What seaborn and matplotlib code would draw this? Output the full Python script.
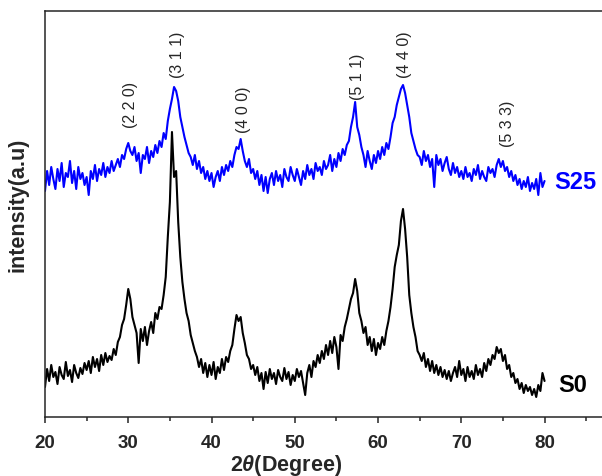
import matplotlib
matplotlib.use("Agg")
import matplotlib.pyplot as plt
import seaborn as sns
import numpy as np
import pandas as pd
from matplotlib.ticker import MultipleLocator

# 2theta grid, 0.25 degree steps from 20 to 80
two_theta = np.arange(20, 80.01, 0.25)

# intensities (a.u.), one row = 5 degrees
s0 = [
    30, 48, 36, 52, 40, 45, 33, 50, 42, 38, 55, 41, 47, 35, 52, 44, 39, 49, 43, 54,
    47, 56, 44, 60, 50, 58, 46, 62, 52, 64, 55, 61, 57, 68, 62, 75, 80, 92, 98, 112,
    128, 118, 100, 92, 84, 54, 88, 76, 90, 72, 86, 95, 84, 104, 98, 110, 108, 122, 140, 180,
    215, 285, 240, 246, 195, 160, 135, 118, 104, 96, 82, 74, 66, 60, 50, 58, 44, 54, 40, 52,
    42, 55, 38, 50, 44, 58, 47, 60, 55, 66, 72, 88, 102, 96, 100, 84, 74, 62, 58, 48,
    52, 42, 50, 36, 44, 28, 45, 34, 48, 38, 44, 33, 47, 40, 36, 49, 38, 45, 32, 42,
    36, 48, 40, 46, 34, 22, 44, 52, 40, 56, 50, 62, 54, 66, 58, 72, 62, 76, 64, 80,
    70, 48, 82, 76, 90, 98, 108, 118, 124, 138, 126, 104, 96, 84, 90, 72, 80, 66, 78, 62,
    74, 68, 80, 72, 86, 96, 110, 128, 150, 162, 172, 196, 208, 188, 160, 122, 104, 90, 80, 66,
    62, 56, 64, 50, 58, 46, 56, 44, 52, 42, 50, 40, 47, 38, 46, 36, 44, 50, 40, 56,
    42, 48, 36, 50, 40, 46, 38, 52, 42, 48, 40, 54, 46, 58, 52, 62, 58, 70, 64, 68,
    56, 62, 48, 52, 40, 44, 34, 38, 28, 34, 24, 32, 26, 30, 22, 28, 20, 32, 26, 44,
    36,
]
s25 = [
    226, 246, 232, 250, 238, 228, 248, 236, 254, 230, 244, 240, 256, 234, 246, 228, 250, 238, 244, 232,
    240, 222, 246, 238, 252, 236, 248, 242, 254, 240, 250, 244, 256, 246, 252, 258, 250, 262, 258, 268,
    274, 266, 262, 270, 256, 264, 244, 262, 258, 270, 254, 266, 260, 272, 264, 276, 270, 284, 278, 296,
    308, 318, 330, 326, 316, 300, 290, 280, 272, 264, 260, 252, 262, 248, 256, 244, 250, 238, 246, 236,
    244, 230, 240, 246, 236, 250, 242, 252, 246, 256, 250, 262, 270, 268, 278, 266, 256, 250, 258, 244,
    248, 238, 246, 232, 242, 226, 240, 224, 238, 244, 232, 246, 236, 242, 230, 248, 240, 236, 250, 242,
    236, 248, 240, 232, 246, 238, 252, 242, 248, 238, 254, 246, 250, 242, 256, 248, 252, 262, 246, 258,
    250, 264, 256, 268, 262, 272, 276, 290, 300, 315, 290, 282, 270, 262, 250, 266, 256, 248, 262, 254,
    266, 258, 270, 262, 274, 268, 280, 294, 300, 312, 320, 328, 332, 324, 312, 300, 284, 276, 268, 262,
    260, 252, 266, 256, 262, 250, 258, 230, 262, 252, 258, 246, 254, 260, 248, 242, 254, 244, 250, 240,
    246, 238, 250, 240, 244, 236, 248, 242, 252, 238, 246, 240, 236, 250, 244, 248, 240, 252, 258, 250,
    256, 246, 250, 240, 246, 236, 242, 232, 238, 228, 236, 230, 240, 226, 234, 228, 238, 222, 244, 230,
    236,
]

# (hkl) peak labels: text, 2theta position, height of label start
hkl_labels = ["(2 2 0)", "(3 1 1)", "(4 0 0)", "(5 1 1)", "(4 4 0)", "(5 3 3)"]
hkl_pos = [30.3, 35.9, 43.8, 57.5, 63.2, 75.5]
hkl_h = [290, 340, 285, 318, 340, 271]

df = pd.DataFrame({
    "two_theta": np.concatenate([two_theta, two_theta]),
    "intensity": np.concatenate([s25, s0]),
    "sample": ["S25"] * len(two_theta) + ["S0"] * len(two_theta),
})

sns.set_style("ticks")
plt.rcParams["font.family"] = ["Liberation Sans", "DejaVu Sans"]
plt.rcParams["mathtext.fontset"] = "custom"
plt.rcParams["mathtext.it"] = "Liberation Sans:italic:bold"
plt.rcParams["mathtext.rm"] = "Liberation Sans:bold"

fig = plt.figure(figsize=(6.02, 4.77), dpi=100)
ax = fig.add_axes([45 / 602, 1 - 418 / 477, 1 - 45 / 602, 406 / 477])

sns.lineplot(
    data=df, x="two_theta", y="intensity", hue="sample",
    hue_order=["S25", "S0"], palette={"S25": "#0000ff", "S0": "black"},
    lw=1.5, legend=False, sort=False, estimator=None, ax=ax,
)

for txt, x, h in zip(hkl_labels, hkl_pos, hkl_h):
    ax.text(x, h, txt, rotation=90, ha="center", va="bottom",
            fontsize=11.5, color="0.15")

ax.text(81.2, 235, "S25", color="#0000ff", fontsize=17, fontweight="bold", va="center")
ax.text(81.6, 32, "S0", color="black", fontsize=17, fontweight="bold", va="center")

ax.set_xlim(20, 86.9)
ax.set_ylim(0, 406)
ax.set_yticks([])
ax.xaxis.set_major_locator(MultipleLocator(10))
ax.xaxis.set_minor_locator(MultipleLocator(5))
ax.tick_params(axis="x", which="major", direction="out", length=4, width=1.1,
               labelsize=13.5, pad=8)
ax.tick_params(axis="x", which="minor", direction="out", length=3, width=1.1)
for lab in ax.get_xticklabels():
    lab.set_fontweight("bold")

for side in ["left", "top", "bottom"]:
    ax.spines[side].set_linewidth(1.1)
    ax.spines[side].set_visible(True)
ax.spines["right"].set_visible(False)

ax.set_xlabel(r"$\mathit{2\theta}$(Degree)", fontsize=15.5, fontweight="bold")
ax.xaxis.set_label_coords((49 - 20) / 66.9, -0.086)
ax.set_ylabel("intensity(a.u)", fontsize=15.5, fontweight="bold")
ax.yaxis.set_label_coords(-0.029, 0.525)

fig.savefig("out.png", dpi=100)
